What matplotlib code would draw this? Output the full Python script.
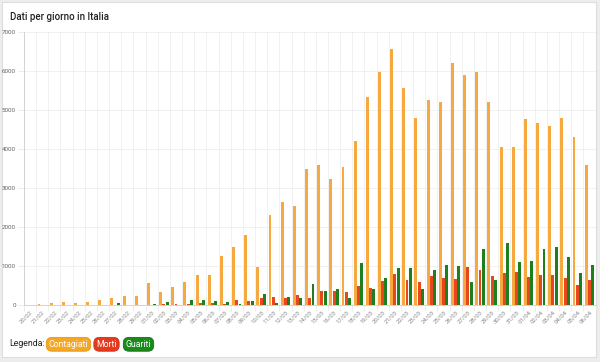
import matplotlib
matplotlib.use("Agg")
import matplotlib.pyplot as plt
from matplotlib.patches import Rectangle
import numpy as np

plt.rcParams['font.family'] = ['Roboto', 'DejaVu Sans']

dates = ['20/02', '21/02', '22/02', '23/02', '24/02', '25/02', '26/02', '27/02', '28/02', '29/02',
         '01/03', '02/03', '03/03', '04/03', '05/03', '06/03', '07/03', '08/03', '09/03', '10/03',
         '11/03', '12/03', '13/03', '14/03', '15/03', '16/03', '17/03', '18/03', '19/03', '20/03',
         '21/03', '22/03', '23/03', '24/03', '25/03', '26/03', '27/03', '28/03', '29/03', '30/03',
         '31/03', '01/04', '02/04', '03/04', '04/04', '05/04', '06/04']

contagiati = [3, 16, 55, 70, 55, 85, 130, 180, 225, 235,
              566, 342, 466, 587, 769, 778, 1247, 1492, 1797, 977,
              2313, 2651, 2547, 3497, 3590, 3233, 3526, 4207, 5322, 5986,
              6557, 5560, 4789, 5249, 5210, 6203, 5909, 5974, 5217, 4050,
              4053, 4782, 4668, 4585, 4805, 4316, 3599]

morti = [0, 1, 1, 1, 4, 3, 2, 5, 4, 8,
         5, 18, 27, 28, 41, 49, 36, 133, 97, 168,
         196, 189, 250, 175, 368, 349, 345, 475, 427, 627,
         793, 651, 601, 743, 683, 662, 969, 889, 756, 812,
         837, 727, 760, 766, 681, 525, 636]

guariti = [0, 0, 0, 0, 1, 0, 2, 42, 1, 4,
           33, 66, 11, 116, 138, 109, 66, 33, 102, 280,
           41, 213, 181, 527, 369, 414, 192, 1084, 415, 689,
           943, 952, 408, 894, 1036, 999, 589, 1434, 646, 1590,
           1109, 1118, 1431, 1480, 1238, 819, 1022]

series_names = ['Contagiati', 'Morti', 'Guariti']
colors = ['#F5A93E', '#E8461E', '#1E7F1E']
pill_colors = ['#F5A623', '#E53A1E', '#1A8A1A']
pill_edges = ['#E8961A', '#C9301A', '#137013']

W, H = 600, 362
fig = plt.figure(figsize=(W / 100, H / 100), dpi=100)
fig.patch.set_facecolor('#EDEDED')

# card
card = Rectangle((2 / W, 1 - 357 / H), 594 / W, 355 / H, transform=fig.transFigure,
                 facecolor='white', edgecolor='#DDDDDD', linewidth=0.8, zorder=-5)
fig.patches.append(card)

fig.text(10 / W, 1 - 17 / H, 'Dati per giorno in Italia', fontsize=7, fontweight='medium',
         color='#222222', va='center', ha='left')

ax = fig.add_axes([24 / W, 1 - 305 / H, 571.5 / W, 273 / H], zorder=2)
ax.set_facecolor('none')

n = len(dates)
x = np.arange(n)
cat = 0.8
bw = cat / 3 * 0.9
for k, (vals, c) in enumerate(zip([contagiati, morti, guariti], colors)):
    ax.bar(x + (k - 1) * cat / 3, vals, width=bw, color=c, zorder=3, linewidth=0)

ax.set_xlim(-0.5, n - 0.5)
ax.set_ylim(0, 7000)
ax.set_yticks(np.arange(0, 7001, 1000))
ax.set_yticklabels([str(v) for v in range(0, 7001, 1000)], fontsize=4.5, color='#666666')
ax.set_xticks(x)
ax.set_xticklabels(dates, fontsize=4.3, color='#888888', rotation=45, ha='right',
                   rotation_mode='anchor')
ax.tick_params(axis='x', length=0, pad=3)
ax.tick_params(axis='y', length=4, color='#E6E6E6', width=0.5, pad=2)

# grid lines
ax.set_xticks(np.arange(-0.5, n, 1.0), minor=True)
ax.tick_params(axis='x', which='minor', length=4, color='#E6E6E6', width=0.5)
ax.grid(axis='x', which='minor', color='#EBEBEB', linewidth=0.5, zorder=0)
ax.grid(axis='y', which='major', color='#EBEBEB', linewidth=0.5, zorder=0)
ax.grid(axis='x', which='major', visible=False)

for side in ['top', 'right']:
    ax.spines[side].set_visible(False)
for side in ['left', 'bottom']:
    ax.spines[side].set_color('#CCCCCC')
    ax.spines[side].set_linewidth(0.6)

# legend
fig.text(9 / W, 1 - 344 / H, 'Legenda:', fontsize=6.3, color='#222222', va='center', ha='left')
pill_centers = [68.5, 106.5, 138.5]
for name, cx, fc, ec in zip(series_names, pill_centers, pill_colors, pill_edges):
    fig.text(cx / W, 1 - 344.3 / H, name, fontsize=6.2, color='white',
             va='center', ha='center',
             bbox=dict(boxstyle='round,pad=0.28,rounding_size=0.65', facecolor=fc,
                       edgecolor=ec, linewidth=0.6))

fig.savefig('out.png', dpi=100, facecolor=fig.get_facecolor())
